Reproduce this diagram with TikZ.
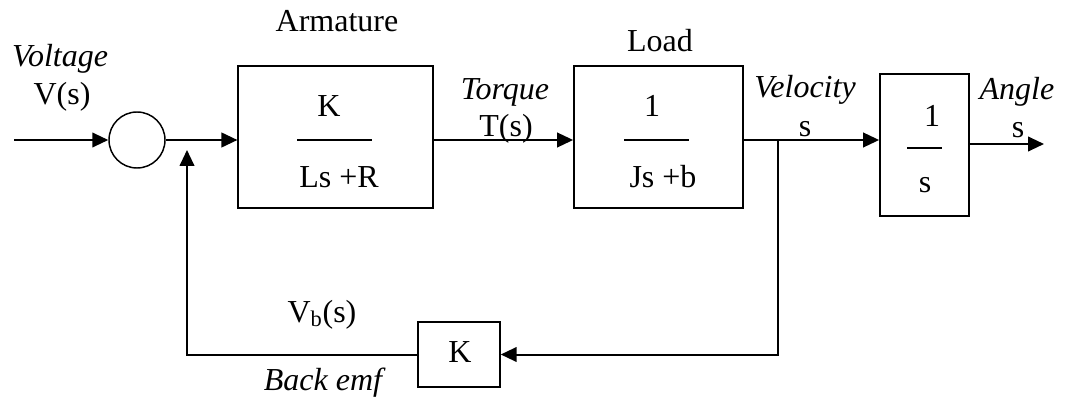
\documentclass[tikz,border=0pt]{standalone}
\usepackage{fontspec}
\setmainfont{Liberation Serif}
\usetikzlibrary{arrows.meta}

\begin{document}
\begin{tikzpicture}[x=0.75pt, y=-0.75pt,
    every node/.style={font=\fontsize{24}{28}\selectfont},
    block/.style={draw, line width=1.1pt, inner sep=0pt},
    wire/.style={line width=1.5pt},
    sig/.style={wire, -{Triangle[length=12pt, width=11pt]}}]
  \useasboundingbox (0,0) rectangle (1067,399);
  % blocks
  \node[block, circle, minimum size=42pt] (sum) at (137,140) {};
  \node[block, minimum width=146pt, minimum height=106.5pt] (arm) at (335.5,137) {};
  \node[block, minimum width=127pt, minimum height=106.5pt] (load) at (658.5,137) {};
  \node[block, minimum width=67pt, minimum height=106.5pt] (integ) at (924.5,145) {};
  \node[block, minimum width=61.5pt, minimum height=49pt] (fb) at (459,354.5) {};
  % transfer functions
  \node[anchor=base] (armnum) at (329,117) {K};
  \node[anchor=base] (armden) at (339,187) {Ls +R};
  \draw[line width=1.1pt] (297,140) -- (372,140);
  \node[anchor=base] (loadnum) at (652,117) {1};
  \node[anchor=base] (loadden) at (663,187) {Js +b};
  \draw[line width=1.1pt] (624,140) -- (689,140);
  \node[anchor=base] (integnum) at (932,127) {1};
  \node[anchor=base] (integden) at (925,193) {s};
  \draw[line width=1.1pt] (907,148) -- (942,148);
  \node[anchor=base] (fbgain) at (460,362) {K};
  % labels
  \node[anchor=base] (armlbl) at (337,32) {Armature};
  \node[anchor=base] (loadlbl) at (660,52) {Load};
  \node[anchor=base, font=\fontsize{24}{28}\selectfont\itshape] (vlbl) at (60,67) {Voltage};
  \node[anchor=base] (vsig) at (62,105) {V(s)};
  \node[anchor=base, font=\fontsize{24}{28}\selectfont\itshape] (tlbl) at (505,100) {Torque};
  \node[anchor=base] (tsig) at (506,137) {T(s)};
  \node[anchor=base, font=\fontsize{24}{28}\selectfont\itshape] (wlbl) at (805,98) {Velocity};
  \node[anchor=base] (wsig) at (805,137) {s};
  \node[anchor=base, font=\fontsize{24}{28}\selectfont\itshape] (albl) at (1017,100) {Angle};
  \node[anchor=base] (asig) at (1018,138) {s};
  \node[anchor=base] (vbsig) at (322,322) {V\textsubscript{b}(s)};
  \node[anchor=base, font=\fontsize{24}{28}\selectfont\itshape] (emflbl) at (323,390) {Back emf};
  % signal paths
  \coordinate (in) at (14,140);
  \coordinate (br) at (778,140);
  \coordinate (out) at (1044,144);
  \coordinate (fbtip) at (187,150);
  \draw[sig] (in) -- (sum.west);
  \draw[sig] (sum.east) -- (arm.west |- sum.east);
  \draw[sig] (arm.east |- sum.east) -- (load.west |- sum.east);
  \draw[sig] (load.east |- sum.east) -- (integ.west |- sum.east);
  \draw[sig] (integ.east |- out) -- (out);
  \draw[sig] (br) |- (fb.east);
  \draw[sig] (fb.west) -| (fbtip);
\end{tikzpicture}
\end{document}
